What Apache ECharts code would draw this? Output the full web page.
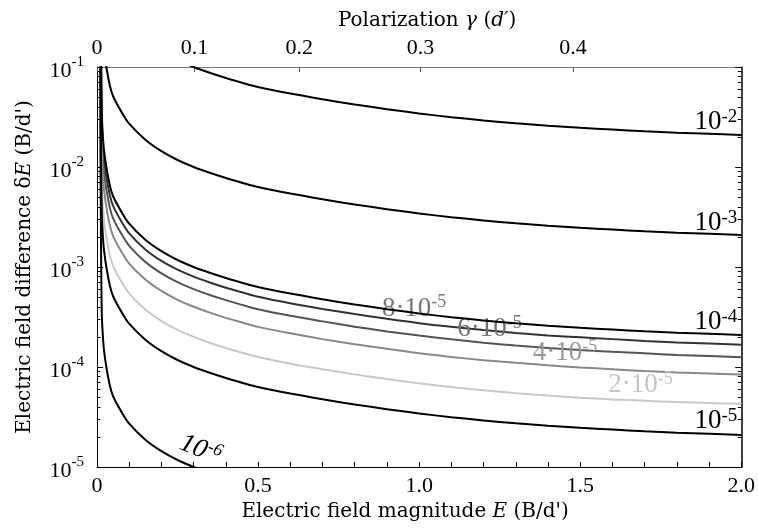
<!DOCTYPE html>
<html lang="en">
<head>
<meta charset="UTF-8">
<title>Electric field difference</title>
<script src="https://cdn.jsdelivr.net/npm/echarts@6/dist/echarts.min.js"></script>
<style>
  * { margin: 0; padding: 0; }
  html, body { width: 100%; height: 100%; background: #fff; }
  #main { width: 758px; height: 532px; }
</style>
</head>
<body>
<div id="main"></div>
<script>
// field magnitude E (B/d') where the curves were read
var fieldE = [0.0102, 0.0105, 0.011, 0.012, 0.013, 0.015, 0.019, 0.022, 0.029, 0.04, 0.05, 0.075, 0.1,
              0.15, 0.2, 0.25, 0.3, 0.35, 0.4, 0.45, 0.5, 0.6, 0.7, 0.8, 0.9, 1.0, 1.1, 1.2, 1.3, 1.4,
              1.5, 1.6, 1.7, 1.8, 1.9, 2.0];

// field difference dE (B/d')
var delta1e2 = [null, null, null, null, null, null, null, null, null, null, null, null, null, null,
                0.144, 0.1175, 0.1, 0.0875, 0.0776, 0.0697, 0.063, 0.0542, 0.0476, 0.0422, 0.0379, 0.0343,
                0.0315, 0.0292, 0.0274, 0.0259, 0.0247, 0.0237, 0.0228, 0.02205, 0.02145, 0.0209];
var delta1e3 = [null, null, null, null, null, null, null, 0.145, 0.1, 0.065, 0.051, 0.036, 0.0271,
                0.01875, 0.0144, 0.01175, 0.01, 0.00875, 0.00776, 0.00697, 0.0063, 0.00542, 0.00476, 0.00422,
                0.00379, 0.00343, 0.00315, 0.00292, 0.00274, 0.00259, 0.00247, 0.00237, 0.00228, 0.002205,
                0.002145, 0.00209];
var delta1e4 = [null, null, null, 0.3, 0.1, 0.033, 0.0186, 0.0145, 0.01, 0.0065, 0.0051, 0.0036, 0.00271,
                0.001875, 0.00144, 0.001175, 0.001, 8.75e-4, 7.76e-4, 6.97e-4, 6.3e-4, 5.42e-4, 4.76e-4, 4.22e-4,
                3.79e-4, 3.43e-4, 3.15e-4, 2.92e-4, 2.74e-4, 2.59e-4, 2.47e-4, 2.37e-4, 2.28e-4, 2.205e-4,
                2.145e-4, 2.09e-4];
var delta8e5 = [null, null, null, 0.24, 0.08, 0.0264, 0.0149, 0.0116, 0.008, 0.0052, 0.00408, 0.00288, 0.00217,
                0.0015, 0.00115, 9.4e-4, 8.0e-4, 7.0e-4, 6.21e-4, 5.58e-4, 5.04e-4, 4.34e-4, 3.81e-4, 3.38e-4,
                3.03e-4, 2.74e-4, 2.52e-4, 2.34e-4, 2.19e-4, 2.07e-4, 1.98e-4, 1.9e-4, 1.82e-4, 1.76e-4,
                1.72e-4, 1.67e-4];
var delta6e5 = [null, null, 0.6, 0.18, 0.06, 0.0198, 0.0112, 0.0087, 0.006, 0.0039, 0.00306, 0.00216, 0.00163,
                0.001125, 8.64e-4, 7.05e-4, 6.0e-4, 5.25e-4, 4.66e-4, 4.18e-4, 3.78e-4, 3.25e-4, 2.86e-4, 2.53e-4,
                2.27e-4, 2.06e-4, 1.89e-4, 1.75e-4, 1.64e-4, 1.55e-4, 1.48e-4, 1.42e-4, 1.37e-4, 1.32e-4,
                1.29e-4, 1.25e-4];
var delta4e5 = [null, null, 0.4, 0.12, 0.04, 0.0132, 0.0074, 0.0058, 0.004, 0.0026, 0.00204, 0.00144, 0.00108,
                7.5e-4, 5.76e-4, 4.7e-4, 4.0e-4, 3.5e-4, 3.1e-4, 2.79e-4, 2.52e-4, 2.17e-4, 1.9e-4, 1.69e-4,
                1.52e-4, 1.37e-4, 1.26e-4, 1.17e-4, 1.1e-4, 1.04e-4, 9.9e-5, 9.5e-5, 9.1e-5, 8.8e-5,
                8.6e-5, 8.4e-5];
var delta2e5 = [null, 0.6, 0.2, 0.06, 0.02, 0.0066, 0.0037, 0.0029, 0.002, 0.0013, 0.00102, 7.2e-4, 5.42e-4,
                3.75e-4, 2.88e-4, 2.35e-4, 2.0e-4, 1.75e-4, 1.55e-4, 1.39e-4, 1.26e-4, 1.08e-4, 9.5e-5, 8.44e-5,
                7.58e-5, 6.86e-5, 6.3e-5, 5.84e-5, 5.48e-5, 5.18e-5, 4.94e-5, 4.74e-5, 4.6e-5, 4.46e-5,
                4.36e-5, 4.28e-5];
var delta1e5 = [null, 0.3, 0.1, 0.03, 0.01, 0.0033, 0.00186, 0.00145, 0.001, 6.5e-4, 5.1e-4, 3.6e-4, 2.71e-4,
                1.875e-4, 1.44e-4, 1.175e-4, 1.0e-4, 8.75e-5, 7.76e-5, 6.97e-5, 6.3e-5, 5.42e-5, 4.76e-5, 4.22e-5,
                3.79e-5, 3.43e-5, 3.15e-5, 2.92e-5, 2.74e-5, 2.59e-5, 2.47e-5, 2.37e-5, 2.28e-5, 2.205e-5,
                2.145e-5, 2.09e-5];
var delta1e6 = [0.1, 0.03, 0.01, 0.003, 0.001, 3.3e-4, 1.86e-4, 1.45e-4, 1.0e-4, 6.5e-5, 5.1e-5, 3.6e-5, 2.71e-5,
                1.875e-5, 1.44e-5, 1.175e-5, 1.0e-5, 8.75e-6, null, null, null, null, null, null,
                null, null, null, null, null, null, null, null, null, null, null, null];

// curve labels: mantissa part and exponent
var curveLabels = [['10', '-2'], ['10', '-3'], ['10', '-4'], ['8·10', '-5'], ['6·10', '-5'],
                   ['4·10', '-5'], ['2·10', '-5'], ['10', '-5'], ['10', '-6']];

// top axis: polarization gamma and the field values where its ticks sit
var gammaLabels = ['0', '0.1', '0.2', '0.3', '0.4'];
var gammaTickE = [0, 0.303, 0.628, 1.004, 1.478];

var numFont = 'Liberation Serif';
var textFont = 'DejaVu Serif';

window.onload = function () {
    var chart = echarts.init(document.getElementById('main'));

    var minorY = [];
    for (var d = -5; d < -1; d++) {
        for (var k = 2; k <= 9; k++) minorY.push(k * Math.pow(10, d));
    }

    var specs = [
        { data: delta1e2, color: '#000', lab: curveLabels[0], labColor: '#000', at: 35, big: true, align: 'right', offset: [-4, 1] },
        { data: delta1e3, color: '#000', lab: curveLabels[1], labColor: '#000', at: 35, big: true, align: 'right', offset: [-4, 2] },
        { data: delta1e4, color: '#000', lab: curveLabels[2], labColor: '#000', at: 35, big: true, align: 'right', offset: [-4, 1] },
        { data: delta8e5, color: '#333', lab: curveLabels[3], labColor: '#777', at: 25, offset: [-5, 1] },
        { data: delta6e5, color: '#555', lab: curveLabels[4], labColor: '#727272', at: 27, offset: [6, 2] },
        { data: delta4e5, color: '#888', lab: curveLabels[5], labColor: '#999', at: 29, offset: [17, 3] },
        { data: delta2e5, color: '#c8c8c8', lab: curveLabels[6], labColor: '#c4c4c4', at: 31, offset: [28, 1] },
        { data: delta1e5, color: '#000', lab: curveLabels[7], labColor: '#000', at: 35, big: true, align: 'right', offset: [-4, 0] },
        { data: delta1e6, color: '#000', lab: curveLabels[8], labColor: '#000', at: 16, italic: true, rotate: -22, offset: [0, -3] }
    ];

    var series = specs.map(function (s) {
        var lab = s.lab;
        var label = {
            show: true,
            position: 'top',
            distance: 0,
            align: s.align || 'center',
            offset: s.offset,
            rotate: s.rotate || 0,
            formatter: '{m|' + lab[0] + '}{s|' + lab[1] + '}',
            rich: {
                m: { fontFamily: numFont, fontSize: 27, lineHeight: s.big ? 28 : 30, color: s.labColor,
                     fontStyle: s.italic ? 'italic' : 'normal' },
                s: { fontFamily: numFont, fontSize: s.big ? 19 : 18, lineHeight: s.big ? 19 : 18, color: s.labColor,
                     verticalAlign: 'top', fontStyle: s.italic ? 'italic' : 'normal' }
            }
        };
        var data = fieldE.map(function (e, i) {
            var item = { value: [e, s.data[i]] };
            if (i === s.at) item.label = label;
            return item;
        });
        return {
            type: 'line',
            data: data,
            smooth: 0.3,
            symbol: 'circle',
            symbolSize: 1,
            showSymbol: true,
            showAllSymbol: true,
            itemStyle: { color: s.color },
            lineStyle: { color: s.color, width: 2 },
            label: { show: false },
            clip: true,
            silent: true,
            emphasis: { disabled: true },
            z: s.color === '#000' ? 3 : 2
        };
    });

    var yLabelRich = {
        b: { fontFamily: numFont, fontSize: 22, lineHeight: 32, color: '#000' },
        s: { fontFamily: numFont, fontSize: 15, lineHeight: 15, color: '#000', verticalAlign: 'top' }
    };

    var option = {
        animation: false,
        backgroundColor: '#fff',
        grid: { left: 97, right: 16, top: 67, bottom: 65, containLabel: false },
        xAxis: [
            {
                type: 'value', position: 'bottom', min: 0, max: 2, interval: 0.5,
                name: '{t|Electric field magnitude }{i|E}{t| (B/d\')}',
                nameLocation: 'middle', nameGap: 34,
                nameTextStyle: { padding: [0, 28, 0, 0], rich: {
                    t: { fontFamily: textFont, fontSize: 20, color: '#000' },
                    i: { fontFamily: textFont, fontSize: 20, fontStyle: 'italic', color: '#000' } } },
                axisLine: { lineStyle: { color: '#000', width: 1 } },
                axisTick: { inside: true, length: 5, lineStyle: { color: '#000' } },
                minorTick: { show: true, splitNumber: 5, length: 5, lineStyle: { color: '#000' } },
                axisLabel: { fontFamily: numFont, fontSize: 22, color: '#000', margin: 8,
                    formatter: function (v) { return v === 0 ? '0' : v.toFixed(1); } },
                splitLine: { show: false }
            },
            {
                type: 'value', position: 'top', min: 0, max: 2,
                name: '{t|Polarization }{i|γ}{t| (}{i|d′}{t|)}',
                nameLocation: 'middle', nameGap: 36,
                nameTextStyle: { padding: [0, 0, 0, 16], rich: {
                    t: { fontFamily: textFont, fontSize: 20, color: '#000' },
                    i: { fontFamily: textFont, fontSize: 20, fontStyle: 'italic', color: '#000' } } },
                axisLine: { lineStyle: { color: '#777', width: 1 } },
                axisTick: { inside: true, length: 5, customValues: gammaTickE, lineStyle: { color: '#555' } },
                axisLabel: { fontFamily: numFont, fontSize: 22, color: '#000', margin: 8,
                    customValues: gammaTickE,
                    formatter: function (v) {
                        for (var i = 0; i < gammaTickE.length; i++) {
                            if (Math.abs(gammaTickE[i] - v) < 1e-6) return gammaLabels[i];
                        }
                        return '';
                    } },
                splitLine: { show: false }
            }
        ],
        yAxis: [
            {
                type: 'log', logBase: 10, position: 'left', min: 1e-5, max: 1e-1,
                name: '{t|Electric field difference δ}{i|E}{t| (B/d\')}',
                nameLocation: 'middle', nameGap: 62, nameRotate: 90,
                nameTextStyle: { rich: {
                    t: { fontFamily: textFont, fontSize: 20, color: '#000' },
                    i: { fontFamily: textFont, fontSize: 20, fontStyle: 'italic', color: '#000' } } },
                axisLine: { show: true, lineStyle: { color: '#000', width: 1 } },
                axisTick: { inside: true, length: 6, lineStyle: { color: '#000' } },
                axisLabel: { margin: 13, padding: [8, 0, 0, 0], rich: yLabelRich,
                    formatter: function (v) {
                        var ex = Math.round(Math.log(v) / Math.LN10);
                        return '{b|10}{s|' + ex + '}';
                    } },
                splitLine: { show: false }
            },
            {
                type: 'log', logBase: 10, position: 'left', min: 1e-5, max: 1e-1,
                axisLine: { show: false },
                axisTick: { inside: true, length: 3.5, customValues: minorY, lineStyle: { color: '#000' } },
                axisLabel: { show: false },
                splitLine: { show: false }
            },
            {
                type: 'log', logBase: 10, position: 'right', min: 1e-5, max: 1e-1,
                axisLine: { show: true, lineStyle: { color: '#000', width: 1.5 } },
                axisTick: { inside: true, length: 6, lineStyle: { color: '#000' } },
                axisLabel: { show: false },
                splitLine: { show: false }
            },
            {
                type: 'log', logBase: 10, position: 'right', min: 1e-5, max: 1e-1,
                axisLine: { show: false },
                axisTick: { inside: true, length: 3.5, customValues: minorY, lineStyle: { color: '#000' } },
                axisLabel: { show: false },
                splitLine: { show: false }
            }
        ],
        series: series
    };
    chart.setOption(option);
};
</script>
</body>
</html>
